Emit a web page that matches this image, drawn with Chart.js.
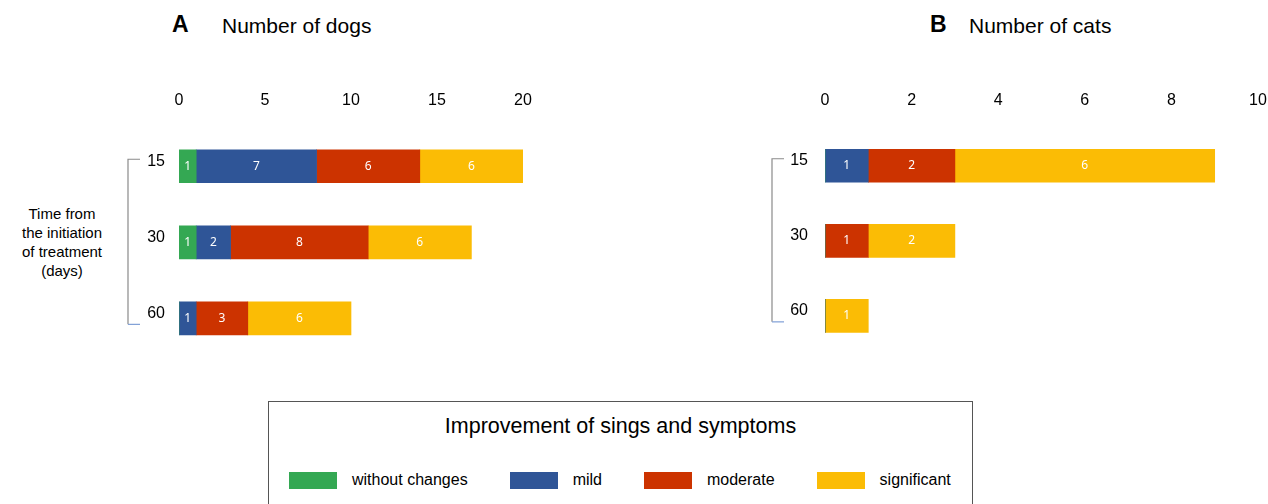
<!DOCTYPE html>
<html lang="en">
<head>
<meta charset="UTF-8">
<title>Improvement of signs and symptoms</title>
<script src="https://cdn.jsdelivr.net/npm/chart.js"></script>
<style>
  body { margin: 0; width: 1268px; height: 504px; overflow: hidden; background: #fff;
         font-family: "Liberation Sans", Arial, sans-serif; color: #000; position: relative; }
  canvas { position: absolute; top: 0; }
  .panel-letter { position: absolute; top: 11px; font-size: 23px; font-weight: bold; }
  .panel-title { position: absolute; top: 14px; font-size: 21px; }
  #timeLabel { position: absolute; left: 2px; top: 204px; width: 120px; text-align: center;
               font-size: 15px; line-height: 19px; }
  #legendBox { position: absolute; left: 268px; top: 401px; width: 705px; height: 120px;
               border: 1.5px solid #555; box-sizing: border-box; }
  #legendTitle { position: absolute; top: 12px; width: 100%; text-align: center; font-size: 21.5px; }
  #legendItems { position: absolute; left: 20px; top: 69px; width: 680px; display: flex;
                 align-items: center; white-space: nowrap; }
  .item { display: flex; align-items: center; flex: none; margin-right: 42px; font-size: 16px; }
  .swatch { flex: none; width: 48px; height: 17px; margin-right: 15px; }
</style>
</head>
<body>
<div class="panel-letter" style="left:172px">A</div>
<div class="panel-title" style="left:222px">Number of dogs</div>
<div class="panel-letter" style="left:930px">B</div>
<div class="panel-title" style="left:969px">Number of cats</div>
<div id="timeLabel">Time from<br>the initiation<br>of treatment<br>(days)</div>

<canvas id="dogsChart" width="634" height="380" style="left:0"></canvas>
<canvas id="catsChart" width="670" height="380" style="left:634px"></canvas>

<div id="legendBox">
  <div id="legendTitle">Improvement of sings and symptoms</div>
  <div id="legendItems"></div>
</div>

<script>
// days since start of treatment
const days = ['15', '30', '60'];

const seriesNames = ['without changes', 'mild', 'moderate', 'significant'];
const seriesColors = ['#34a853', '#2f5597', '#cc3300', '#fbbc05'];

// dogs per improvement level, one value per day
const dogsWithout = [1, 1, 0];
const dogsMild = [7, 2, 1];
const dogsModerate = [6, 8, 3];
const dogsSignificant = [6, 6, 6];

// cats per improvement level
const catsWithout = [0, 0, 0];
const catsMild = [1, 0, 0];
const catsModerate = [2, 1, 0];
const catsSignificant = [6, 2, 1];

const dogsMax = 20, dogsStep = 5;
const catsMax = 10, catsStep = 2;

// white count written in the middle of each segment
const segmentLabels = {
  id: 'segmentLabels',
  afterDatasetsDraw(chart) {
    const ctx = chart.ctx;
    ctx.save();
    ctx.font = '12px "Noto Sans", sans-serif';
    ctx.fillStyle = '#fff';
    ctx.textAlign = 'center';
    ctx.textBaseline = 'middle';
    chart.data.datasets.forEach((ds, i) => {
      chart.getDatasetMeta(i).data.forEach((bar, j) => {
        const v = ds.data[j];
        if (!v) return;
        const p = bar.getProps(['x', 'y', 'base'], true);
        ctx.fillText(String(v), (p.x + p.base) / 2, p.y);
      });
    });
    ctx.restore();
  }
};

// bracket joining the day labels
const dayBracket = {
  id: 'dayBracket',
  afterDraw(chart, args, opts) {
    const ctx = chart.ctx;
    const y = chart.scales.y;
    const x = chart.chartArea.left + opts.offset;
    const top = y.getPixelForValue(0) - 7;
    const bottom = y.getPixelForValue(days.length - 1) + 6;
    ctx.save();
    ctx.lineWidth = 1.2;
    ctx.strokeStyle = '#8a8a8a';
    ctx.beginPath();
    ctx.moveTo(x + 12, top);
    ctx.lineTo(x, top);
    ctx.lineTo(x, bottom);
    ctx.stroke();
    ctx.strokeStyle = '#7f9fd6';
    ctx.beginPath();
    ctx.moveTo(x, bottom);
    ctx.lineTo(x + 12, bottom);
    ctx.stroke();
    ctx.restore();
  }
};

function makeDatasets(values) {
  return values.map((data, i) => ({
    label: seriesNames[i],
    data: data,
    backgroundColor: seriesColors[i],
    borderWidth: 0,
    barThickness: 33
  }));
}

function makeChart(id, values, max, step, pad, tickPad, bracketOffset) {
  return new Chart(document.getElementById(id), {
    type: 'bar',
    data: { labels: days, datasets: makeDatasets(values) },
    options: {
      indexAxis: 'y',
      responsive: false,
      animation: false,
      layout: { padding: pad },
      scales: {
        x: {
          position: 'top',
          stacked: true,
          min: 0,
          max: max,
          grid: { display: false, drawTicks: false },
          border: { display: false },
          ticks: {
            stepSize: step,
            padding: 18,
            color: '#000',
            font: { family: '"Liberation Sans", Arial, sans-serif', size: 16 }
          }
        },
        y: {
          stacked: true,
          grid: { display: false, drawTicks: false },
          border: { display: false },
          afterFit(scale) { scale.width = 60; },
          ticks: {
            padding: tickPad,
            labelOffset: -5,
            color: '#000',
            font: { family: '"Liberation Sans", Arial, sans-serif', size: 16 }
          }
        }
      },
      plugins: {
        legend: { display: false },
        tooltip: { enabled: false },
        dayBracket: { offset: bracketOffset }
      }
    },
    plugins: [segmentLabels, dayBracket]
  });
}

makeChart('dogsChart',
  [dogsWithout, dogsMild, dogsModerate, dogsSignificant],
  dogsMax, dogsStep,
  { top: 73, bottom: 17, left: 119, right: 111 }, 14, -51);

makeChart('catsChart',
  [catsWithout, catsMild, catsModerate, catsSignificant],
  catsMax, catsStep,
  { top: 73, bottom: 17, left: 131, right: 46 }, 17, -53);

// legend row under the charts
const legendItems = document.getElementById('legendItems');
seriesNames.forEach((name, i) => {
  const item = document.createElement('div');
  item.className = 'item';
  item.innerHTML = '<div class="swatch" style="background:' + seriesColors[i] + '"></div>' + name;
  legendItems.appendChild(item);
});
</script>
</body>
</html>
